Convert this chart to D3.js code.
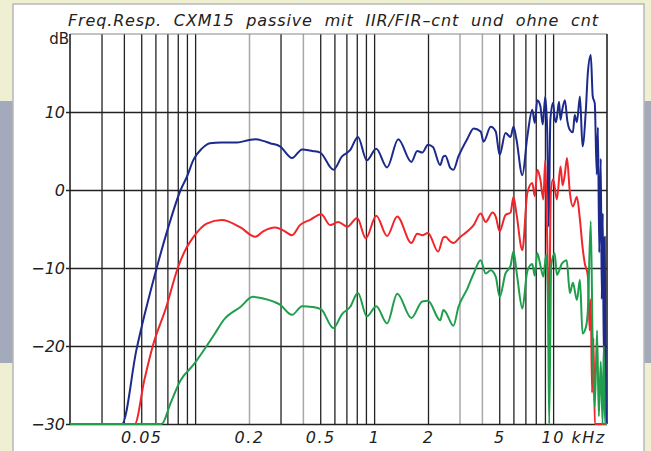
<!DOCTYPE html>
<html>
<head>
<meta charset="utf-8">
<style>
  body { margin: 0; background: #efefd2; }
  svg { display: block; }
  text { font-family: "DejaVu Sans", sans-serif; fill: #222; }
</style>
</head>
<body>
<svg id="chart"></svg>
<script src="https://cdn.jsdelivr.net/npm/d3@7/dist/d3.min.js"></script>
<script>
    var width = 651;
    var height = 451;
    var margin = {left: 70, right: 44, top: 34, bottom: 27};
    var plotW = width - margin.left - margin.right;
    var plotH = height - margin.top - margin.bottom;

    var title = "Freq.Resp.  CXM15  passive  mit  IIR/FIR\u2013cnt  und  ohne  cnt";

    // grid + ticks
    var gridBlack = [30, 40, 50, 60, 70, 80, 90, 100, 300, 500, 600, 700, 800, 900, 1000, 2000, 5000, 6000, 7000, 8000, 9000, 10000];
    var gridGrey = [200, 400, 3000, 4000];
    var dbTicks = [-30, -20, -10, 0, 10];
    var freqLabels = [50, 200, 500, 1000, 2000, 5000, 10000];
    var freqLabelText = ["0.05", "0.2", "0.5", "1", "2", "5", "10 kHz"];

    // curves: [Hz, dB]
    var blueCurve = [[20,-30],[39,-30],[47,-20.5],[61,-10],[71,-4.7],[83,0],[90,1.7],[98,3.9],[109,5.3],[121,6.0],[140,6.1],[172,6.1],[200,6.4],[217,6.5],[240,6.3],[262,6.0],[298,5.6],[348,4.1],[396,5.2],[452,5.0],[500,4.8],[592,2.6],[662,4.3],[734,5.1],[812,6.8],[911,3.8],[1028,5.3],[1182,2.9],[1364,6.5],[1615,3.6],[1741,5.0],[1858,4.8],[2000,5.8],[2131,5.5],[2340,3.2],[2436,4.3],[2500,4.4],[2669,2.8],[2772,2.6],[2958,4.3],[3325,6.6],[3598,7.9],[3936,7.5],[4090,6.2],[4478,8.1],[4780,7.5],[5026,4.5],[5420,7.3],[5784,6.8],[6004,8.1],[6238,6.5],[6731,1.9],[7174,6.8],[7650,10.3],[7900,8.6],[8160,11.5],[8481,10.8],[8750,8.4],[9040,12.0],[9272,7.4],[9450,-4.7],[9650,9.0],[10000,11.2],[10200,9.2],[10390,8.7],[10790,11.3],[11000,9.0],[11210,10.1],[11640,11.5],[12000,8.9],[12410,7.7],[12900,7.4],[13200,9.6],[13580,8.7],[14120,12.0],[14600,5.6],[15240,10.3],[15630,15.0],[16230,17.3],[16650,12.0],[17090,11.1],[17530,2.0],[17800,8],[18100,-8],[18460,4],[18700,-14],[18940,-3],[19200,-22],[19430,-6],[19700,-28],[20000,-30]];
    var redCurve = [[20,-30],[46,-30],[52,-24.4],[58,-20],[69,-15],[80,-10],[90,-7.3],[98,-6],[116,-4.3],[141,-3.85],[179,-4.8],[217,-6.0],[240,-5.3],[280,-4.8],[312,-5.2],[348,-5.8],[385,-4.5],[441,-3.8],[506,-3.1],[568,-4.5],[630,-4.1],[708,-4.7],[804,-3.6],[899,-6.2],[1028,-3.3],[1182,-5.9],[1346,-3.4],[1615,-6.8],[1741,-5.6],[1858,-5.8],[2000,-5.5],[2278,-7.9],[2436,-6.1],[2500,-6.0],[2669,-6.6],[2772,-6.8],[3036,-6.0],[3325,-5.3],[3598,-4.5],[3936,-3.0],[4197,-4.1],[4596,-2.9],[4780,-3.4],[5026,-5.3],[5420,-3.2],[5784,-2.9],[6004,-0.9],[6238,-3.0],[6731,-7.7],[7174,-0.4],[7650,0.9],[7900,-0.8],[8160,2.6],[8481,1.4],[8815,-1.2],[9040,3.8],[9272,-6.5],[9500,-18],[9700,-0.4],[10000,1.4],[10500,-1.2],[11000,3.0],[11300,0.6],[11640,2.1],[11950,4.1],[12410,-0.4],[12900,-2.1],[13580,-0.9],[14120,-3.8],[14600,-7.3],[15000,-9.3],[15630,-11],[16000,-18],[16230,-14],[16500,-26],[16800,-19],[17100,-30],[20000,-30]];
    var greenCurve = [[20,-30],[65,-30],[73,-27.3],[83,-24.4],[98,-22.4],[116,-20],[129,-18.4],[144,-16.7],[179,-15.0],[210,-13.7],[240,-13.9],[298,-14.7],[348,-16.0],[396,-14.9],[452,-15.0],[506,-15.3],[592,-17.7],[662,-15.9],[734,-15.0],[812,-13.2],[911,-16.2],[1028,-14.9],[1182,-17.1],[1346,-13.3],[1615,-16.4],[1858,-14.3],[2000,-14.2],[2340,-16.7],[2436,-15.4],[2500,-15.6],[2772,-17.4],[2958,-15.0],[3325,-12.6],[3598,-10.7],[3936,-9.0],[4197,-10.7],[4478,-10.3],[4780,-11.1],[5026,-13.7],[5420,-10.7],[5784,-9.7],[6004,-7.9],[6300,-11.1],[6731,-15.2],[7174,-10.4],[7650,-9.5],[7900,-11.0],[8160,-8.1],[8481,-9.6],[8815,-11.1],[9150,-8.3],[9350,-14],[9509,-30],[9752,-9.7],[10200,-8.1],[10500,-10.9],[10790,-10.4],[11210,-9.4],[11900,-9.0],[12410,-13.2],[12900,-11.9],[13580,-14.1],[14120,-11.5],[14600,-18.4],[15240,-17.6],[15630,-15.5],[16230,-4],[16650,-20.5],[17090,-27.8],[17600,-18],[18000,-29],[18460,-22],[18900,-30],[19200,-20],[19500,-30],[20000,-30]];

    var blueColor = "#1c2a8c";
    var redColor = "#f0262a";
    var greenColor = "#1f9e4c";

    const svg = d3.select("svg#chart")
      .attr("width", width)
      .attr("height", height);

    // page background
    svg.append("rect").attr("width", width).attr("height", height).attr("fill", "#efefd2");
    svg.append("rect").attr("x", 0).attr("y", 101).attr("width", width).attr("height", 262).attr("fill", "#a3aabc");
    svg.append("rect").attr("x", 13).attr("y", 4).attr("width", 631).attr("height", 460)
      .attr("fill", "#fff").attr("stroke", "#b8b8b8").attr("stroke-width", 1.5);

    var x = d3.scaleLog().domain([20, 20000]).range([margin.left, margin.left + plotW]);
    var y = d3.scaleLinear().domain([-30, 20]).range([margin.top + plotH, margin.top]);

    // vertical grid
    svg.append("g")
      .attr("transform", `translate(0,${margin.top + plotH})`)
      .call(d3.axisBottom(x).tickValues(gridGrey).tickSize(-plotH).tickFormat(""))
      .call(g => g.select(".domain").remove())
      .call(g => g.selectAll("line").attr("stroke", "#a8a8a8").attr("stroke-width", 1.5));
    svg.append("g")
      .attr("transform", `translate(0,${margin.top + plotH})`)
      .call(d3.axisBottom(x).tickValues(gridBlack).tickSize(-plotH).tickFormat(""))
      .call(g => g.select(".domain").remove())
      .call(g => g.selectAll("line").attr("stroke", "#222").attr("stroke-width", 1.3));

    // horizontal grid with small stubs left of axis
    svg.append("g")
      .attr("transform", `translate(${margin.left - 4},0)`)
      .call(d3.axisLeft(y).tickValues(dbTicks).tickSize(-(plotW + 4)).tickFormat(""))
      .call(g => g.select(".domain").remove())
      .call(g => g.selectAll("line").attr("stroke", "#222").attr("stroke-width", 1.5));

    // frame
    svg.append("line").attr("x1", margin.left).attr("x2", margin.left + plotW)
      .attr("y1", margin.top).attr("y2", margin.top).attr("stroke", "#888").attr("stroke-width", 1);
    svg.append("line").attr("x1", margin.left).attr("x2", margin.left)
      .attr("y1", margin.top).attr("y2", margin.top + plotH).attr("stroke", "#222").attr("stroke-width", 1.6);
    svg.append("line").attr("x1", margin.left + plotW).attr("x2", margin.left + plotW)
      .attr("y1", margin.top).attr("y2", margin.top + plotH).attr("stroke", "#222").attr("stroke-width", 1.6);

    // curves
    svg.append("clipPath").attr("id", "plotclip")
      .append("rect").attr("x", margin.left).attr("y", margin.top - 1).attr("width", plotW).attr("height", plotH + 2);

    var line = d3.line()
      .curve(d3.curveMonotoneX)
      .x(d => x(d[0]))
      .y(d => y(Math.max(-30, Math.min(20, d[1]))));

    [[blueCurve, blueColor], [redCurve, redColor], [greenCurve, greenColor]].forEach(c => {
      svg.append("path")
        .datum(c[0])
        .attr("clip-path", "url(#plotclip)")
        .attr("fill", "none")
        .attr("stroke", c[1])
        .attr("stroke-width", 2)
        .attr("stroke-linejoin", "round")
        .attr("d", line);
    });

    // y labels
    svg.append("g")
      .attr("transform", `translate(${margin.left},0)`)
      .call(d3.axisLeft(y).tickValues(dbTicks).tickSize(0).tickPadding(5)
        .tickFormat(d => d < 0 ? "\u2212" + Math.abs(d) : d))
      .call(g => g.select(".domain").remove())
      .call(g => g.selectAll("text")
        .attr("font-family", "DejaVu Sans, sans-serif")
        .attr("font-style", "italic")
        .attr("font-size", 16)
        .attr("fill", "#222"));

    // x labels
    svg.append("g")
      .attr("transform", `translate(0,${margin.top + plotH})`)
      .call(d3.axisBottom(x).tickValues(freqLabels).tickSize(0).tickPadding(8)
        .tickFormat((d, i) => freqLabelText[i]))
      .call(g => g.select(".domain").remove())
      .call(g => g.selectAll("text")
        .attr("font-family", "DejaVu Sans, sans-serif")
        .attr("font-style", "italic")
        .attr("font-size", 16)
        .attr("letter-spacing", 1.5)
        .attr("fill", "#222"))
      .call(g => g.selectAll("text").filter(d => d === 10000)
        .attr("text-anchor", "start").attr("dx", -12));

    // title + unit
    svg.append("text")
      .attr("x", 68).attr("y", 26)
      .attr("xml:space", "preserve")
      .style("white-space", "pre")
      .attr("font-size", 16)
      .attr("font-style", "italic")
      .attr("textLength", 530)
      .attr("lengthAdjust", "spacing")
      .text(title);

    svg.append("text")
      .attr("x", 69).attr("y", 44)
      .attr("text-anchor", "end")
      .attr("font-size", 15)
      .text("dB");
</script>
</body>
</html>
